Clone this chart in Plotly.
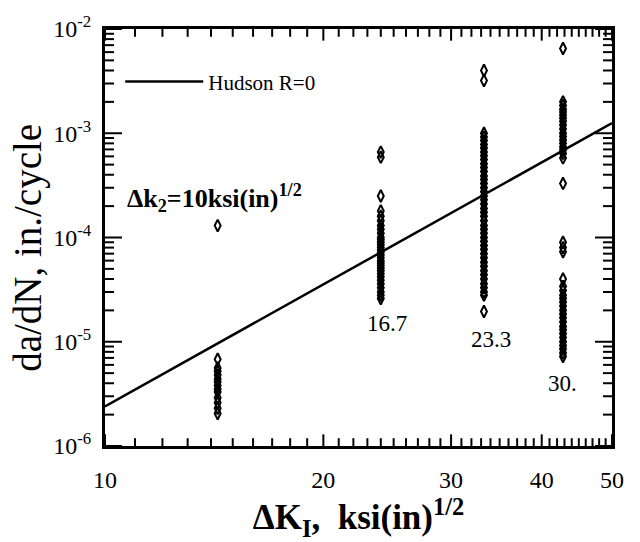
import math
import plotly.graph_objects as go

# Stress-intensity range columns, ksi(in)^1/2
dk_cols = [14.3, 24.0, 33.3, 42.8]

# Measured crack growth rates, in./cycle, for each column
rate_c1 = [1.3e-4, 6.8e-6, 5.6e-6, 5.2e-6, 4.8e-6, 4.4e-6, 4.1e-6, 3.8e-6,
           3.5e-6, 3.3e-6, 2.9e-6, 2.6e-6, 2.3e-6, 2.05e-6]
rate_c2 = [6.6e-4, 5.9e-4, 2.5e-4, 1.8e-4, 1.6e-4, 1.45e-4, 1.3e-4, 1.2e-4,
           1.1e-4, 1.0e-4, 9.5e-5, 9.0e-5, 8.5e-5, 8.0e-5, 7.6e-5, 7.2e-5,
           6.8e-5, 6.4e-5, 6.0e-5, 5.7e-5, 5.4e-5, 5.1e-5, 4.8e-5, 4.5e-5,
           4.2e-5, 3.9e-5, 3.6e-5, 3.3e-5, 3.0e-5, 2.8e-5, 2.6e-5]
rate_c3 = [4.0e-3, 3.2e-3, 1.0e-3, 9.2e-4, 8.5e-4, 7.8e-4, 7.2e-4, 6.6e-4,
           6.1e-4, 5.6e-4, 5.1e-4, 4.7e-4, 4.3e-4, 3.9e-4, 3.6e-4, 3.3e-4,
           3.0e-4, 2.75e-4, 2.5e-4, 2.3e-4, 2.1e-4, 1.9e-4, 1.75e-4, 1.6e-4,
           1.45e-4, 1.3e-4, 1.2e-4, 1.1e-4, 1.0e-4, 9.2e-5, 8.4e-5, 7.7e-5,
           7.0e-5, 6.4e-5, 5.8e-5, 5.3e-5, 4.8e-5, 4.4e-5, 4.0e-5, 3.6e-5,
           3.3e-5, 3.0e-5, 2.8e-5, 1.95e-5]
rate_c4 = [6.5e-3, 2.0e-3, 1.85e-3, 1.7e-3, 1.6e-3, 1.5e-3, 1.4e-3, 1.3e-3,
           1.2e-3, 1.1e-3, 1.0e-3, 9.3e-4, 8.6e-4, 8.0e-4, 7.4e-4, 6.9e-4,
           6.4e-4, 5.8e-4, 3.3e-4, 9.0e-5, 8.0e-5, 7.3e-5, 4.0e-5, 3.4e-5,
           3.1e-5, 2.8e-5, 2.6e-5, 2.4e-5, 2.2e-5, 2.0e-5, 1.85e-5, 1.7e-5,
           1.55e-5, 1.4e-5, 1.3e-5, 1.2e-5, 1.1e-5, 1.0e-5, 9.2e-6, 8.5e-6,
           7.8e-6, 7.2e-6]
rate_cols = [rate_c1, rate_c2, rate_c3, rate_c4]

# Maximum stress-intensity labels under columns 2-4
kmax_labels = ["16.7", "23.3", "30."]
kmax_label_x = [24.5, 34.0, 42.7]
kmax_label_y = [1.5e-5, 1.05e-5, 4.0e-6]

# Hudson R=0 fit line end points
hudson_dk = [10.0, 50.0]
hudson_rate = [2.4e-6, 1.25e-3]

# Axis ranges and ticks
x_lim = [10, 50]
y_lim = [1e-6, 1e-2]
x_major = [10, 20, 30, 40, 50]
x_minor = [v for v in range(11, 50) if v not in x_major]
y_major = [1e-6, 1e-5, 1e-4, 1e-3, 1e-2]
y_labels = ["10<sup>-6</sup>", "10<sup>-5</sup>", "10<sup>-4</sup>",
            "10<sup>-3</sup>", "10<sup>-2</sup>"]
y_minor = [m * 10.0 ** e for e in range(-6, -2) for m in range(2, 10)]

SERIF = "Liberation Serif, Times New Roman, serif"
W, H = 640, 542
M_L, M_R, M_T, M_B = 105, 28, 23, 90

# pixels per decade on each log axis, used to turn tick lengths into
# multiplicative offsets along the axis
px_per_dec_x = (W - M_L - M_R) / math.log10(x_lim[1] / x_lim[0])
px_per_dec_y = (H - M_T - M_B) / math.log10(y_lim[1] / y_lim[0])


def xticks_segments(vals, length):
    """Inward tick segments on the bottom and top frame edges."""
    f = 10 ** (length / px_per_dec_y)
    xs, ys = [], []
    for v in vals:
        xs += [v, v, None, v, v, None]
        ys += [y_lim[0], y_lim[0] * f, None, y_lim[1], y_lim[1] / f, None]
    return xs, ys


def yticks_segments(vals, length):
    """Inward tick segments on the left and right frame edges."""
    f = 10 ** (length / px_per_dec_x)
    xs, ys = [], []
    for v in vals:
        xs += [x_lim[0], x_lim[0] * f, None, x_lim[1], x_lim[1] / f, None]
        ys += [v, v, None, v, v, None]
    return xs, ys


fig = go.Figure()

fig.add_trace(go.Scatter(
    x=hudson_dk, y=hudson_rate, mode="lines",
    line=dict(color="black", width=2.5),
    name="Hudson R=0", showlegend=True,
))

for dk, rates in zip(dk_cols, rate_cols):
    fig.add_trace(go.Scatter(
        x=[dk] * len(rates), y=rates, mode="markers",
        marker=dict(symbol="diamond-tall-open", size=8.5, color="black",
                    line=dict(width=2, color="black")),
        showlegend=False,
    ))

# frame tick marks, pointing into the plot on all four sides
for seg in (xticks_segments(x_minor, 8), xticks_segments(x_major, 12),
            yticks_segments(y_minor, 9), yticks_segments(y_major, 17)):
    fig.add_trace(go.Scatter(
        x=seg[0], y=seg[1], mode="lines", connectgaps=False,
        line=dict(color="black", width=2),
        showlegend=False, hoverinfo="skip",
    ))

# annotations on log axes take log10 positions
for lx, lab, ly in zip(kmax_label_x, kmax_labels, kmax_label_y):
    fig.add_annotation(x=math.log10(lx), y=math.log10(ly), xref="x", yref="y",
                       text=lab, showarrow=False,
                       font=dict(family=SERIF, size=23, color="black"))

fig.add_annotation(
    x=0.04, y=0.595, xref="paper", yref="paper", showarrow=False,
    xanchor="left", yanchor="middle",
    text="<b>Δk<sub>2</sub>=10ksi(in)<sup>1/2</sup></b>",
    font=dict(family=SERIF, size=26, color="black"),
)

# vertical axis title
fig.add_annotation(
    x=-0.152, y=0.475, xref="paper", yref="paper", showarrow=False,
    xanchor="center", yanchor="middle", textangle=-90,
    text="da/dN, in./cycle",
    font=dict(family=SERIF, size=39, color="black"),
)

fig.update_xaxes(
    type="log", range=[math.log10(v) for v in x_lim],
    showline=True, linewidth=3, linecolor="black", mirror=True,
    ticks="", showgrid=False, zeroline=False,
    tickmode="array", tickvals=x_major, ticktext=[str(v) for v in x_major],
    ticklabelstandoff=10,
    tickfont=dict(family=SERIF, size=24, color="black"),
    title=dict(text="<b>ΔK<sub>I</sub>,  ksi(in)<sup>1/2</sup></b>",
               font=dict(family=SERIF, size=35, color="black"), standoff=13),
)
fig.update_yaxes(
    type="log", range=[math.log10(v) for v in y_lim],
    showline=True, linewidth=3, linecolor="black", mirror=True,
    ticks="", showgrid=False, zeroline=False,
    tickmode="array", tickvals=y_major, ticktext=y_labels,
    ticklabelstandoff=6,
    tickfont=dict(family=SERIF, size=24, color="black"),
)

fig.update_layout(
    width=W, height=H,
    margin=dict(l=M_L, r=M_R, t=M_T, b=M_B),
    paper_bgcolor="white", plot_bgcolor="white",
    legend=dict(x=0.03, y=0.873, xanchor="left", yanchor="middle",
                bgcolor="rgba(0,0,0,0)", itemwidth=78,
                font=dict(family=SERIF, size=21, color="black")),
)

fig.write_html("out.html")
